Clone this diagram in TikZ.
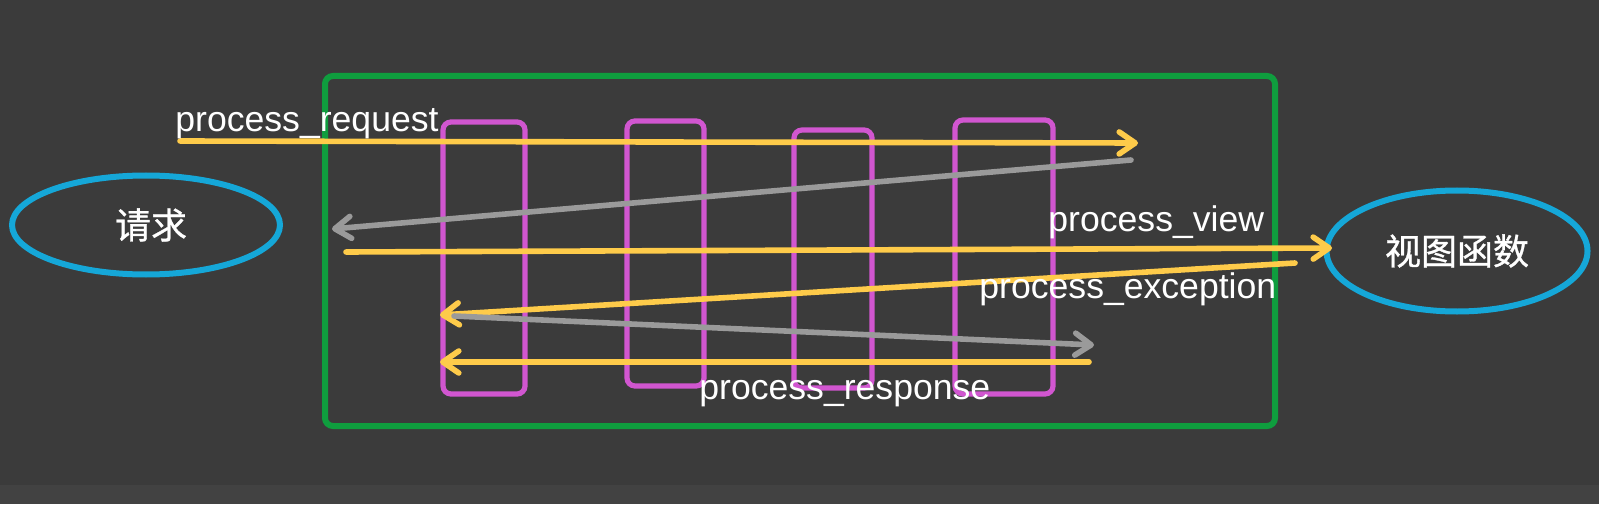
\documentclass[tikz,border=0pt]{standalone}
\usepackage{fontspec}
\setmainfont{Liberation Sans}
\newfontfamily\cjk{Noto Sans CJK SC}[FakeBold=0.9]
\usetikzlibrary{arrows.meta,shapes.geometric}
\definecolor{mwBg}{HTML}{3B3B3B}
\definecolor{mwBand}{HTML}{424242}
\definecolor{mwGreen}{HTML}{0F9D3E}
\definecolor{mwPink}{HTML}{D156D0}
\definecolor{mwYellow}{HTML}{FECB4A}
\definecolor{mwGray}{HTML}{9A9A9A}
\definecolor{mwBlue}{HTML}{15A7D8}

\begin{document}
\begin{tikzpicture}[x=0.5pt,y=0.5pt,
  frame/.style={draw=mwGreen,line width=3pt,rounded corners=4pt},
  layer/.style={draw=mwPink,line width=2.6pt,rounded corners=4pt},
  goarrow/.style={draw=mwYellow,line width=2.8pt,line cap=round,
    -{Straight Barb[length=8pt,width=11pt,round]}},
  backarrow/.style={draw=mwGray,line width=2.8pt,line cap=round,
    -{Straight Barb[length=8pt,width=11pt,round]}},
  endpoint/.style={ellipse,draw=mwBlue,line width=3pt,inner sep=0pt,
    text=white,font=\cjk\fontsize{18}{20}\selectfont},
  hook/.style={text=white,font=\fontsize{17.8}{20}\selectfont,
    anchor=base west,inner sep=0pt}]
  \fill[mwBg] (0,0) rectangle (1599,504);
  \fill[mwBand] (0,0) rectangle (1599,19);
  \useasboundingbox (0,0) rectangle (1599,504);

  \draw[frame] (325,78) rectangle (1275,428);
  \foreach \xa/\ya/\xb/\yb in {443/110/525/382,627/118/704/383,
                               794/116/872/374,955/110/1053/384}
    \draw[layer] (\xa,\ya) rectangle (\xb,\yb);

  \node[endpoint,minimum width=134pt,minimum height=49.5pt] (req) at (146,279) {\hspace{5pt}请求};
  \node[endpoint,minimum width=130.5pt,minimum height=60.5pt] (view) at (1457,253) {视图函数};

  \coordinate (reqS) at (180,363);
  \coordinate (reqE) at (1138,361);
  \coordinate (backS) at (1131,344);
  \coordinate (backE) at (332,275);
  \coordinate (viewS) at (346,252);
  \coordinate (viewE) at (1332,256);
  \coordinate (excS) at (1295,241);
  \coordinate (excE) at (440,189);
  \coordinate (retS) at (454,188);
  \coordinate (retE) at (1094,159);
  \coordinate (respS) at (1089,142);
  \coordinate (respE) at (440,142);

  \draw[goarrow] (reqS) -- (reqE);
  \draw[backarrow] (backS) -- (backE);
  \draw[goarrow] (viewS) -- (viewE);
  \draw[goarrow] (excS) -- (excE);
  \draw[backarrow] (retS) -- (retE);
  \draw[goarrow] (respS) -- (respE);

  \node[hook] (lblReq) at (175,372) {process\_request};
  \node[hook] (lblView) at (1048,272) {process\_view};
  \node[hook] (lblExc) at (979,206) {process\_exception};
  \node[hook] (lblResp) at (699,105) {process\_response};
\end{tikzpicture}
\end{document}
